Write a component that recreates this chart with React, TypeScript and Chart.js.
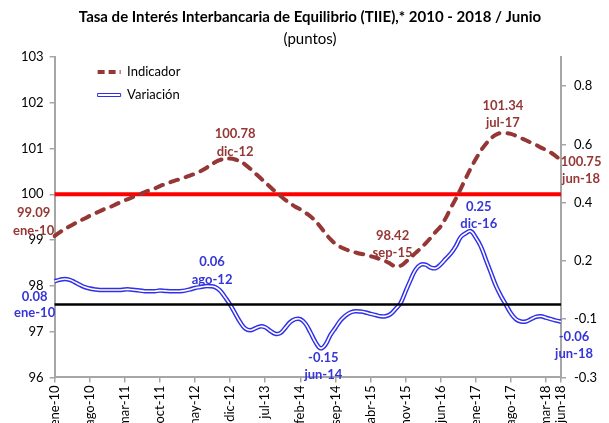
import React, { useEffect, useRef } from 'react';
import { Chart, registerables } from 'chart.js';

Chart.register(...registerables);

// ---------- DATA ----------
const MONTHS = ['ene', 'feb', 'mar', 'abr', 'may', 'jun', 'jul', 'ago', 'sep', 'oct', 'nov', 'dic'];
const YEARS = ['10', '11', '12', '13', '14', '15', '16', '17', '18'];
const LAST_MONTH_2018 = 6; // jun-18
const categories: string[] = [];
YEARS.forEach((yy, yi) => {
  MONTHS.forEach((m, mi) => {
    if (yi === YEARS.length - 1 && mi >= LAST_MONTH_2018) return;
    categories.push(`${m}-${yy}`);
  });
});

const indicador: number[] = [
  99.09, 99.17, 99.24, 99.30, 99.36, 99.42, 99.47, 99.53, 99.58, 99.63,
  99.68, 99.72, 99.77, 99.82, 99.87, 99.91, 99.96, 100.00, 100.05, 100.09,
  100.13, 100.18, 100.22, 100.26, 100.30, 100.33, 100.37, 100.41, 100.45, 100.50,
  100.56, 100.63, 100.70, 100.75, 100.78, 100.78, 100.76, 100.72, 100.65, 100.56,
  100.46, 100.36, 100.26, 100.16, 100.06, 99.97, 99.88, 99.80, 99.73, 99.67,
  99.60, 99.52, 99.42, 99.29, 99.15, 99.02, 98.92, 98.85, 98.80, 98.76,
  98.73, 98.70, 98.68, 98.65, 98.62, 98.58, 98.54, 98.48, 98.42, 98.44,
  98.52, 98.62, 98.72, 98.82, 98.93, 99.05, 99.18, 99.30, 99.48, 99.70,
  99.90, 100.12, 100.35, 100.57, 100.77, 100.95, 101.10, 101.22, 101.30, 101.34,
  101.34, 101.32, 101.28, 101.23, 101.18, 101.13, 101.08, 101.02, 100.97, 100.91,
  100.83, 100.75,
];

const variacion: number[] = [
  0.080, 0.085, 0.088, 0.085, 0.077, 0.068, 0.060, 0.055, 0.052, 0.050,
  0.050, 0.050, 0.050, 0.050, 0.052, 0.052, 0.050, 0.048, 0.046, 0.046,
  0.046, 0.048, 0.047, 0.046, 0.046, 0.046, 0.048, 0.052, 0.057, 0.060,
  0.063, 0.063, 0.060, 0.048, 0.025, 0.000, -0.030, -0.060, -0.082, -0.088,
  -0.082, -0.075, -0.078, -0.090, -0.100, -0.098, -0.080, -0.060, -0.050, -0.050,
  -0.065, -0.095, -0.128, -0.150, -0.138, -0.105, -0.080, -0.055, -0.038, -0.027,
  -0.023, -0.024, -0.027, -0.032, -0.036, -0.040, -0.040, -0.033, -0.015, 0.005,
  0.045, 0.085, 0.120, 0.137, 0.137, 0.127, 0.125, 0.138, 0.157, 0.175,
  0.200, 0.232, 0.245, 0.252, 0.230, 0.200, 0.155, 0.110, 0.065, 0.030,
  0.000, -0.030, -0.050, -0.058, -0.058, -0.050, -0.042, -0.040, -0.045, -0.050,
  -0.055, -0.058,
];

const INDICADOR_REF_LEVEL = 100;
const VARIACION_REF_LEVEL = 0;

const xTickIndices = [0, 7, 14, 21, 28, 35, 42, 49, 56, 63, 70, 77, 84, 91, 98, 101];
const leftMin = 96;
const leftMax = 103;
const rightMin = -0.25;
const rightMax = 0.85;
const rightTickValues = [-0.25, -0.05, 0.15, 0.35, 0.55, 0.75];
const rightTickLabels = ['-0.3', '-0.1', '0.2', '0.4', '0.6', '0.8'];

const indicadorMarks = [0, 35, 68, 90, 101];
const variacionMarks = [0, 31, 53, 83, 101];

const TITLE = 'Tasa de Interés Interbancaria de Equilibrio (TIIE),* 2010 - 2018 / Junio';
const SUBTITLE = '(puntos)';

// ---------- STYLE ----------
const FONT = 'Lato';
const BROWN = '#953735';
const BLUE = '#3030E8';
const BLUE_TEXT = '#3535D8';
const AXIS_GRAY = '#A6A6A6';

// label offsets [dx, dy line1, dy line2] relative to the marked point
const IND_OFFSETS = [[-21, -23, -5], [5, -25, -7], [-3, -31, -14], [-3, -27, -10], [20, 2, 19]];
const VAR_OFFSETS = [[-20, 16, 32], [2, -24, -6], [3, 10, 27], [8, -24, -7], [13, 15, 32]];

const LEGEND_DX = 33;
const LEGEND_DY = -1.5;

const legendMover = {
  id: 'legendMover',
  afterLayout(chart: any) {
    const lg = chart.legend;
    if (!lg) return;
    const ca = chart.chartArea;
    const w = lg.width;
    const h = lg.height;
    lg.left = ca.left + LEGEND_DX;
    lg.right = lg.left + w;
    lg.top = ca.top + LEGEND_DY;
    lg.bottom = lg.top + h;
  },
};

const pointLabels = {
  id: 'pointLabels',
  afterDatasetsDraw(chart: any) {
    const { ctx, scales } = chart;
    const xs = scales.x;
    const ys = scales.y;
    const y1 = scales.y1;
    ctx.save();
    ctx.font = `bold 13px ${FONT}`;
    ctx.textAlign = 'center';
    ctx.textBaseline = 'middle';
    indicadorMarks.forEach((idx, k) => {
      const px = xs.getPixelForValue(idx);
      const py = ys.getPixelForValue(indicador[idx]);
      const [dx, d1, d2] = IND_OFFSETS[k];
      ctx.fillStyle = BROWN;
      ctx.fillText(indicador[idx].toFixed(2), px + dx, py + d1);
      ctx.fillText(categories[idx], px + dx, py + d2);
    });
    variacionMarks.forEach((idx, k) => {
      const px = xs.getPixelForValue(idx);
      const py = y1.getPixelForValue(variacion[idx]);
      const [dx, d1, d2] = VAR_OFFSETS[k];
      ctx.fillStyle = BLUE_TEXT;
      ctx.fillText(variacion[idx].toFixed(2), px + dx, py + d1);
      ctx.fillText(categories[idx], px + dx, py + d2);
    });
    ctx.restore();
  },
};

export default function App() {
  const canvasRef = useRef<HTMLCanvasElement | null>(null);

  useEffect(() => {
    if (!canvasRef.current) return;
    Chart.defaults.font.family = FONT;
    const chart = new Chart(canvasRef.current, {
      type: 'line',
      data: {
        labels: categories,
        datasets: [
          {
            label: 'Indicador',
            data: indicador,
            yAxisID: 'y',
            borderColor: BROWN,
            borderWidth: 4,
            borderDash: [8, 8],
            borderCapStyle: 'round',
            pointRadius: 0,
            tension: 0.4,
            fill: false,
            order: 0,
          },
          {
            label: 'Variación',
            data: variacion,
            yAxisID: 'y1',
            borderColor: BLUE,
            borderWidth: 4.5,
            pointRadius: 0,
            tension: 0.4,
            fill: false,
            order: 4,
          },
          {
            label: 'Variación (interior)',
            data: variacion,
            yAxisID: 'y1',
            borderColor: '#FFFFFF',
            borderWidth: 1.6,
            pointRadius: 0,
            tension: 0.4,
            fill: false,
            order: 3,
          },
          {
            label: 'Nivel 100',
            data: categories.map(() => INDICADOR_REF_LEVEL),
            yAxisID: 'y',
            borderColor: '#FF0000',
            borderWidth: 4,
            pointRadius: 0,
            tension: 0,
            fill: false,
            order: 1,
          },
          {
            label: 'Nivel 0',
            data: categories.map(() => VARIACION_REF_LEVEL),
            yAxisID: 'y1',
            borderColor: '#000000',
            borderWidth: 2.5,
            pointRadius: 0,
            tension: 0,
            fill: false,
            order: 2,
          },
        ],
      },
      options: {
        responsive: true,
        maintainAspectRatio: false,
        animation: false,
        events: [],
        layout: { padding: { left: 15, right: 4, top: 0, bottom: 0 } },
        plugins: {
          tooltip: { enabled: false },
          title: {
            display: true,
            text: TITLE,
            color: '#000',
            font: { family: FONT, size: 15, weight: 'bold' },
            padding: { top: 8, bottom: 2 },
          },
          subtitle: {
            display: true,
            text: SUBTITLE,
            color: '#000',
            font: { family: FONT, size: 15, weight: 'normal' },
            padding: { top: 2, bottom: 9 },
          },
          legend: {
            display: true,
            position: 'chartArea' as any,
            align: 'start',
            labels: {
              usePointStyle: true,
              pointStyleWidth: 23,
              boxHeight: 3,
              padding: 10,
              color: '#000',
              font: { family: FONT, size: 13 },
              generateLabels: () => [
                {
                  text: 'Indicador',
                  fillStyle: BROWN,
                  strokeStyle: BROWN,
                  lineWidth: 4,
                  lineDash: [7, 4],
                  pointStyle: 'line',
                  datasetIndex: 0,
                  hidden: false,
                  fontColor: '#000',
                } as any,
                {
                  text: 'Variación',
                  fillStyle: '#FFFFFF',
                  strokeStyle: BLUE,
                  lineWidth: 1,
                  pointStyle: 'rect',
                  datasetIndex: 1,
                  hidden: false,
                  fontColor: '#000',
                } as any,
              ],
            },
          },
        },
        scales: {
          x: {
            type: 'category',
            offset: false,
            grid: { display: true, drawOnChartArea: false, drawTicks: true, tickLength: 5, color: AXIS_GRAY, lineWidth: 1.5 },
            border: { display: true, color: AXIS_GRAY, width: 2 },
            afterBuildTicks: (axis: any) => {
              axis.ticks = xTickIndices.map((v) => ({ value: v }));
            },
            ticks: {
              autoSkip: false,
              maxRotation: 90,
              minRotation: 90,
              padding: 3,
              color: '#000',
              font: { family: FONT, size: 13 },
              callback: (value: any) => categories[Number(value)],
            },
          },
          y: {
            type: 'linear',
            position: 'left',
            min: leftMin,
            max: leftMax,
            grid: { display: true, drawOnChartArea: false, drawTicks: true, tickLength: 5, color: AXIS_GRAY, lineWidth: 1.5 },
            border: { display: true, color: AXIS_GRAY, width: 2 },
            ticks: {
              stepSize: 1,
              padding: 6,
              color: '#000',
              font: { family: FONT, size: 13 },
            },
          },
          y1: {
            type: 'linear',
            position: 'right',
            min: rightMin,
            max: rightMax,
            grid: { display: true, drawOnChartArea: false, drawTicks: true, tickLength: 5, color: AXIS_GRAY, lineWidth: 1.5 },
            border: { display: true, color: AXIS_GRAY, width: 2 },
            afterBuildTicks: (axis: any) => {
              axis.ticks = rightTickValues.map((v) => ({ value: v }));
            },
            ticks: {
              padding: 8,
              color: '#000',
              font: { family: FONT, size: 13 },
              callback: (value: any) => {
                const i = rightTickValues.findIndex((v) => Math.abs(v - Number(value)) < 1e-9);
                return i >= 0 ? rightTickLabels[i] : '';
              },
            },
          },
        },
      },
      plugins: [legendMover, pointLabels],
    });
    return () => chart.destroy();
  }, []);

  return (
    <div style={{ position: 'fixed', left: 0, top: 0, width: 609, height: 432, background: '#fff' }}>
      <canvas ref={canvasRef} />
    </div>
  );
}
